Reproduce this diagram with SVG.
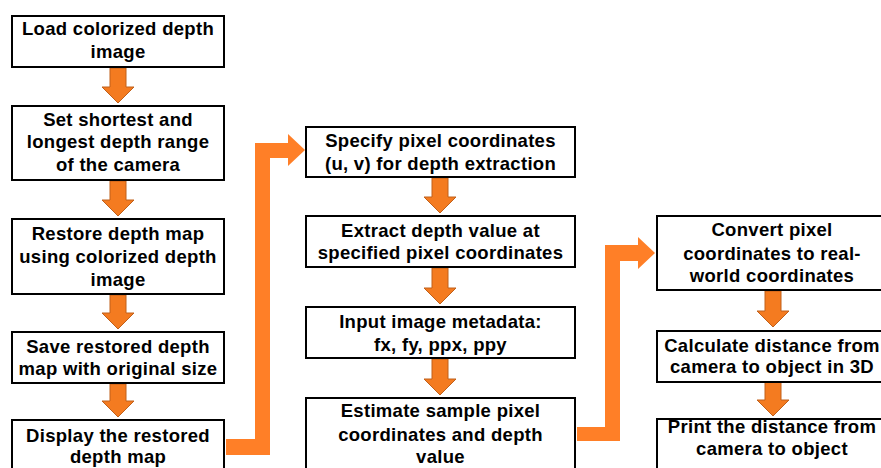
<svg xmlns="http://www.w3.org/2000/svg" width="881" height="468" viewBox="0 0 881 468">
  <style>
    .box { fill: #ffffff; stroke: #000000; stroke-width: 2; }
    .lbl { font-family: "Liberation Sans", Arial, sans-serif; font-weight: bold; font-size: 18.5px; letter-spacing: 0.3px; text-anchor: middle; fill: #000000; }
    .step { fill: #F47B20; stroke: #C0601A; stroke-width: 1; }
    .link { fill: #FF7F27; }
  </style>
  <rect width="881" height="468" fill="#ffffff"/>

  <!-- connectors -->
  <g id="connectors">
    <!-- column 1 steps -->
    <path class="step" d="M110,68 H126 V87 H134 L118,103 L102,87 H110 Z"/>
    <path class="step" d="M110,181 H126 V200 H134 L118,216 L102,200 H110 Z"/>
    <path class="step" d="M110,295 H126 V313 H134 L118,329 L102,313 H110 Z"/>
    <path class="step" d="M110,384 H126 V401 H134 L118,417 L102,401 H110 Z"/>
    <!-- column 2 steps -->
    <path class="step" d="M432,178 H448 V197 H456 L440,213 L424,197 H432 Z"/>
    <path class="step" d="M432,268 H448 V288 H456 L440,304 L424,288 H432 Z"/>
    <path class="step" d="M432,359 H448 V379 H456 L440,395 L424,379 H432 Z"/>
    <!-- column 3 steps -->
    <path class="step" d="M765,291 H781 V311 H789 L773,327 L757,311 H765 Z"/>
    <path class="step" d="M765,382 H781 V400 H789 L773,416 L757,400 H765 Z"/>
    <!-- column jumps -->
    <path class="link" d="M226,439 H255 V143 H288 V134 L305,150 L288,166 V158 H270 V455 H226 Z"/>
    <path class="link" d="M577,427 H605 V245 H638 V237 L655,253 L638,269 V261 H620 V441 H577 Z"/>
  </g>

  <!-- column 1 -->
  <g id="load">
    <rect class="box" x="12" y="16" width="212" height="51"/>
    <text class="lbl" x="118" y="35">Load colorized depth</text>
    <text class="lbl" x="118" y="58">image</text>
  </g>
  <g id="set-range">
    <rect class="box" x="12" y="106" width="212" height="74"/>
    <text class="lbl" x="118" y="126">Set shortest and</text>
    <text class="lbl" x="118" y="148">longest depth range</text>
    <text class="lbl" x="118" y="171">of the camera</text>
  </g>
  <g id="restore">
    <rect class="box" x="12" y="219" width="212" height="75"/>
    <text class="lbl" x="118" y="240">Restore depth map</text>
    <text class="lbl" x="118" y="263">using colorized depth</text>
    <text class="lbl" x="118" y="286">image</text>
  </g>
  <g id="save">
    <rect class="box" x="12" y="332" width="212" height="51"/>
    <text class="lbl" x="118" y="353">Save restored depth</text>
    <text class="lbl" x="118" y="375">map with original size</text>
  </g>
  <g id="display">
    <rect class="box" x="12" y="420" width="212" height="60"/>
    <text class="lbl" x="118" y="442">Display the restored</text>
    <text class="lbl" x="118" y="463">depth map</text>
  </g>

  <!-- column 2 -->
  <g id="specify">
    <rect class="box" x="306" y="127" width="269" height="50"/>
    <text class="lbl" x="440.5" y="147">Specify pixel coordinates</text>
    <text class="lbl" x="440.5" y="170">(u, v) for depth extraction</text>
  </g>
  <g id="extract">
    <rect class="box" x="306" y="216" width="269" height="51"/>
    <text class="lbl" x="440.5" y="237">Extract depth value at</text>
    <text class="lbl" x="440.5" y="259">specified pixel coordinates</text>
  </g>
  <g id="metadata">
    <rect class="box" x="306" y="307" width="269" height="51"/>
    <text class="lbl" x="440.5" y="328">Input image metadata:</text>
    <text class="lbl" x="440.5" y="351">fx, fy, ppx, ppy</text>
  </g>
  <g id="estimate">
    <rect class="box" x="306" y="398" width="269" height="80"/>
    <text class="lbl" x="440.5" y="417">Estimate sample pixel</text>
    <text class="lbl" x="440.5" y="441">coordinates and depth</text>
    <text class="lbl" x="440.5" y="463">value</text>
  </g>

  <!-- column 3 -->
  <g id="convert">
    <rect class="box" x="657" y="216" width="240" height="74"/>
    <text class="lbl" x="772" y="236">Convert pixel</text>
    <text class="lbl" x="772" y="260">coordinates to real-</text>
    <text class="lbl" x="772" y="282">world coordinates</text>
  </g>
  <g id="distance">
    <rect class="box" x="657" y="331" width="240" height="51"/>
    <text class="lbl" x="772" y="352">Calculate distance from</text>
    <text class="lbl" x="772" y="373">camera to object in 3D</text>
  </g>
  <g id="print">
    <rect class="box" x="657" y="419" width="240" height="60"/>
    <text class="lbl" x="772" y="433">Print the distance from</text>
    <text class="lbl" x="772" y="455">camera to object</text>
  </g>
</svg>
